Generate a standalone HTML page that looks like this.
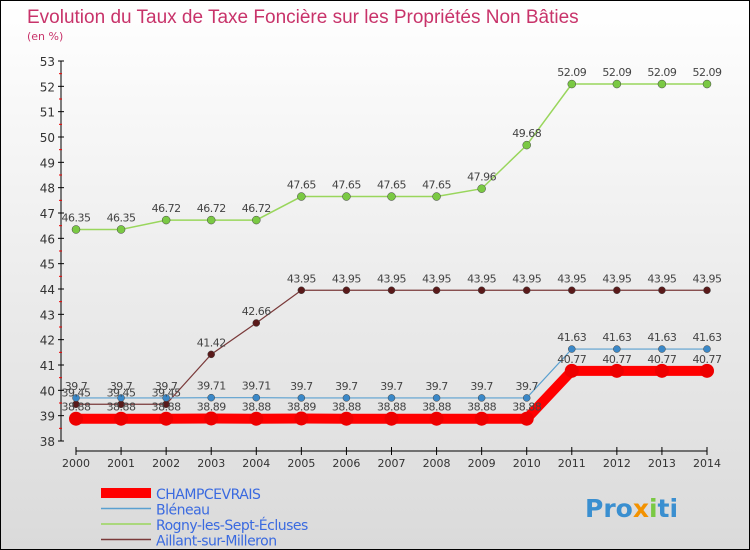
<!DOCTYPE html>
<html><head><meta charset="utf-8"><style>
body{margin:0}
#c{width:750px;height:550px;position:relative;overflow:hidden;box-sizing:border-box;border:1px solid #000;background:linear-gradient(#fff,#f4f4f4 30%,#dadada);font-family:"DejaVu Sans","Liberation Sans",sans-serif}
svg{position:absolute;left:0;top:0}
</style></head><body>
<div id="c">
<svg id="s" width="750" height="550">
<text x="26" y="22" font-size="19" fill="#c8336a" font-family="Liberation Sans, sans-serif">Evolution du Taux de Taxe Foncière sur les Propriétés Non Bâties</text>
<text x="26" y="39" font-size="11" fill="#c8336a">(en %)</text>
<text x="584" y="516" font-size="25" font-weight="bold" fill="#3a8fd0">Pro<tspan fill="#f39200">x</tspan><tspan fill="#7ac943">i</tspan>ti</text>
</svg></div>
<script>
const years=[2000,2001,2002,2003,2004,2005,2006,2007,2008,2009,2010,2011,2012,2013,2014];
const yTicks=[38,39,40,41,42,43,44,45,46,47,48,49,50,51,52,53];
const champ=[38.88,38.88,38.88,38.89,38.88,38.89,38.88,38.88,38.88,38.88,38.88,40.77,40.77,40.77,40.77];
const bleneau=[39.7,39.7,39.7,39.71,39.71,39.7,39.7,39.7,39.7,39.7,39.7,41.63,41.63,41.63,41.63];
const rogny=[46.35,46.35,46.72,46.72,46.72,47.65,47.65,47.65,47.65,47.96,49.68,52.09,52.09,52.09,52.09];
const aillant=[39.45,39.45,39.45,41.42,42.66,43.95,43.95,43.95,43.95,43.95,43.95,43.95,43.95,43.95,43.95];
const names=["CHAMPCEVRAIS","Bléneau","Rogny-les-Sept-Écluses","Aillant-sur-Milleron"];
const s=document.getElementById('s');const NS='http://www.w3.org/2000/svg';
const X=i=>75+i*(706-75)/14, Y=v=>440-(v-38)*380/15;
function el(t,a,p){const e=document.createElementNS(NS,t);for(const k in a)e.setAttribute(k,a[k]);(p||s).appendChild(e);return e;}
let ax=el('line',{x1:60,y1:60,x2:60,y2:440,stroke:'#000'});


let xa=el('line',{x1:75,y1:450,x2:706,y2:450,stroke:'#000'});


yTicks.forEach(v=>{
 el('line',{x1:57,y1:Y(v),x2:63,y2:Y(v),stroke:'#000'});
 if(v<53)el('line',{x1:58,y1:Y(v+0.5),x2:61,y2:Y(v+0.5),stroke:'#e00'});
 const t=el('text',{x:54,y:Y(v)+5,'font-size':12,'text-anchor':'end',fill:'#333'});
 
 
 t.textContent=v;
});
years.forEach((y,i)=>{
 el('line',{x1:X(i),y1:446,x2:X(i),y2:454,stroke:'#000'});
 const t=el('text',{x:X(i),y:466,'font-size':11,'text-anchor':'middle',fill:'#333'});
 
 
 t.textContent=y;
});
const series=[[rogny,'#99d65c','#7ac943',1.5,4],[aillant,'#7a3a3a','#5a1a1a',1.2,3.5],[bleneau,'#5aa0d0','#3a88c8',1.2,3.5],[champ,'#ff0000','#ee0000',10,7]];
series.forEach(([d,c,dc,w,r],k)=>{
 const p=el('polyline',{points:d.map((v,i)=>X(i)+','+Y(v)).join(' '),fill:'none',stroke:c,'stroke-width':w});
 
 
 d.forEach((v,i)=>{
  const m=el('circle',{cx:X(i),cy:Y(v),r:r,fill:dc,stroke:k==3?'none':'#444','stroke-width':0.5});
  
  
 });
});
[rogny,aillant,bleneau,champ].forEach(d=>d.forEach((v,i)=>{
 const t=el('text',{x:X(i),y:Y(v)-8,'font-size':11,'text-anchor':'middle',fill:'#444','letter-spacing':'-0.5'});
 
 
 t.textContent=String(v);
}));
const lc=[['#ff0000',10],['#5aa0d0',1.5],['#99d65c',1.5],['#7a3a3a',1.5]];
names.forEach((n,k)=>{
 const y=492+k*15.5;
 el('line',{x1:100,y1:y,x2:150,y2:y,stroke:lc[k][0],'stroke-width':lc[k][1]});
 const t=el('text',{x:155,y:y+6,'font-size':14,fill:'#3a6ae0','letter-spacing':'-0.5'});
 
 
 t.textContent=n;
});
</script>
</body></html>
